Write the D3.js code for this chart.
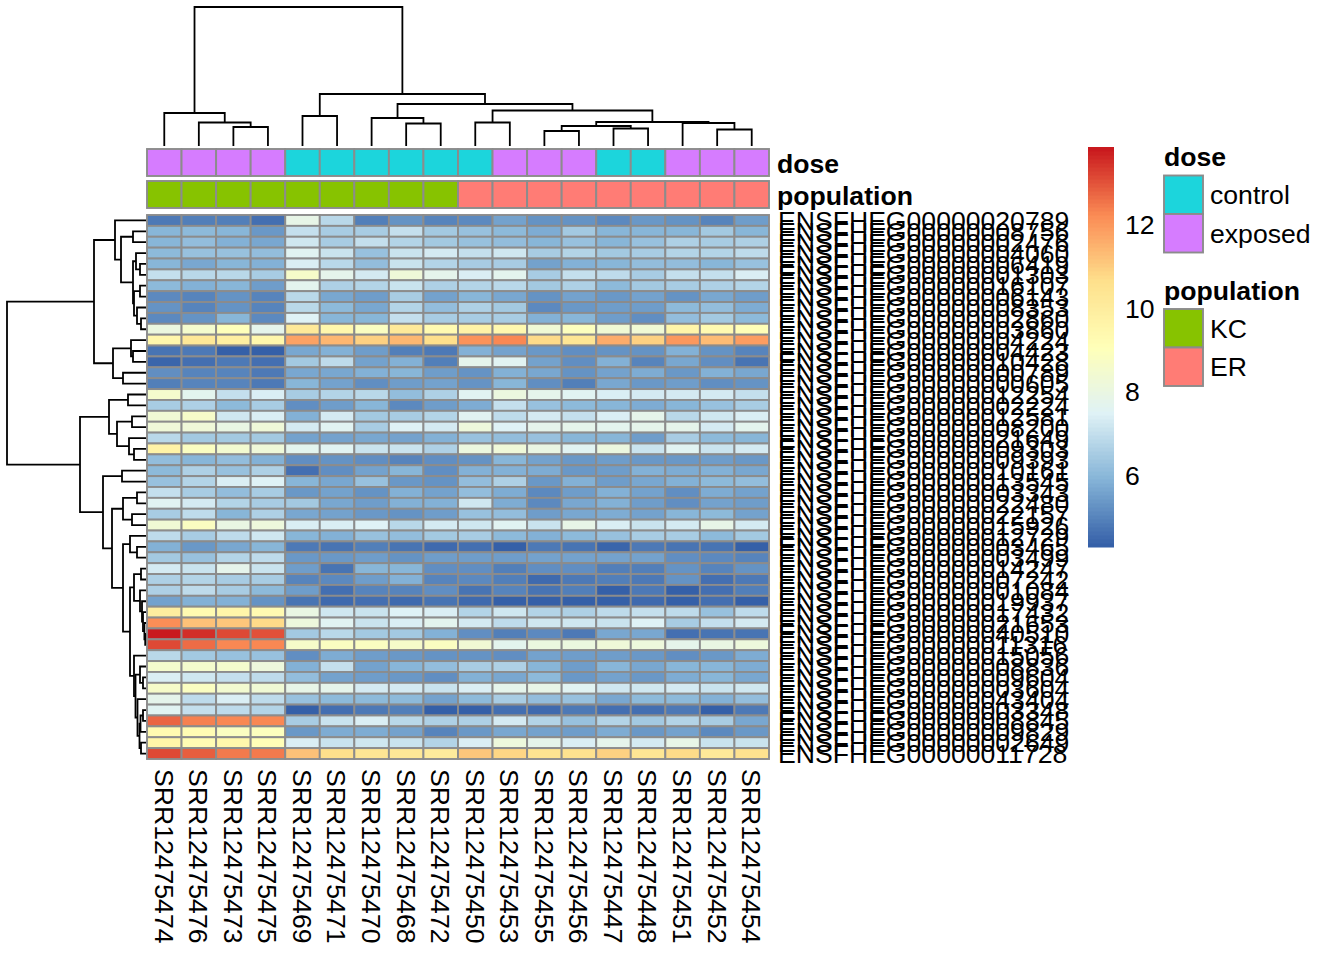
<!DOCTYPE html>
<html><head><meta charset="utf-8">
<script src="https://cdn.jsdelivr.net/npm/d3@7/dist/d3.min.js"></script>
<style>html,body{margin:0;padding:0;background:#fff}svg{display:block}text{font-family:"Liberation Sans",Arial,sans-serif;fill:#000}</style>
</head><body><svg id="c" width="1344" height="960"></svg>
<script>
const columns = ["SRR12475474","SRR12475476","SRR12475473","SRR12475475","SRR12475469","SRR12475471","SRR12475470","SRR12475468","SRR12475472","SRR12475450","SRR12475453","SRR12475455","SRR12475456","SRR12475447","SRR12475448","SRR12475451","SRR12475452","SRR12475454"];
const dose = ["exposed","exposed","exposed","exposed","control","control","control","control","control","control","exposed","exposed","exposed","control","control","exposed","exposed","exposed"];
const population = ["KC","KC","KC","KC","KC","KC","KC","KC","KC","ER","ER","ER","ER","ER","ER","ER","ER","ER"];
const geneSuffix = ["20789","08756","02476","04060","06419","01303","16107","06143","08353","02860","03860","04224","04423","10428","00789","00605","12254","02224","12581","08200","21649","09303","09393","10161","13545","03343","22480","22157","15926","12729","03465","03499","14247","07242","01084","19937","17432","21653","40510","11316","15056","08836","09604","03604","43404","03348","08845","09829","02649","11728"];
const rowLabels = geneSuffix.map(s => "ENSFHEG000000" + s);
const expression = [
[4.8,4.9,4.9,4.6,7.9,6.8,4.9,5.3,5.0,5.1,5.6,5.3,5.3,5.1,5.4,5.3,5.0,5.5],
[6.0,6.1,6.0,5.4,7.0,6.5,6.5,7.0,6.4,6.3,6.1,5.8,6.4,6.0,6.0,6.0,6.4,6.0],
[6.0,6.2,5.9,5.7,7.2,6.5,7.0,6.7,6.4,6.3,6.2,6.0,6.3,6.0,6.3,6.6,6.5,6.6],
[6.1,6.3,6.3,6.2,7.6,7.1,6.3,7.1,7.3,7.0,7.2,6.5,6.7,6.4,6.5,6.7,6.7,6.9],
[6.0,5.7,6.0,5.9,7.4,6.8,6.2,7.1,6.7,6.5,6.5,5.6,5.9,6.0,6.2,6.2,6.0,6.3],
[7.0,6.8,6.8,6.5,8.7,7.8,7.3,8.3,7.8,7.4,7.7,6.5,7.0,6.9,6.5,7.0,7.0,7.4],
[6.1,5.9,6.0,5.5,7.7,6.6,6.7,7.1,6.6,6.7,6.8,6.4,6.6,6.1,6.4,6.5,6.6,6.7],
[5.1,5.0,5.3,5.0,6.8,5.7,5.5,6.5,5.6,6.0,5.7,5.3,5.6,5.4,5.6,5.3,5.7,5.5],
[5.3,5.0,5.3,5.0,6.8,6.1,5.7,6.7,6.2,6.6,6.4,5.1,5.4,5.5,5.5,6.1,6.2,5.8],
[5.1,5.3,6.0,5.1,7.5,6.0,6.0,7.0,6.5,6.5,6.5,5.9,6.0,5.5,5.2,6.2,6.4,6.1],
[8.1,8.6,9.0,7.8,10.2,9.5,8.8,10.2,9.3,9.7,9.4,8.4,8.9,8.4,8.4,9.6,9.3,9.1],
[9.5,10.3,9.9,9.5,11.8,11.4,11.0,11.4,10.7,12.1,12.3,10.8,10.4,11.6,11.0,12.0,11.3,11.9],
[4.7,4.8,4.3,4.3,5.7,5.9,5.5,4.9,4.8,5.9,5.6,5.4,5.2,5.3,5.3,5.9,5.3,5.0],
[4.4,4.6,4.8,4.6,6.4,6.9,5.6,5.9,4.9,7.8,7.6,5.6,5.2,5.9,5.0,5.7,5.2,4.7],
[5.2,5.0,5.0,4.8,5.7,5.7,5.9,6.0,5.5,5.3,5.9,5.7,5.3,5.6,5.8,5.4,5.9,5.7],
[4.9,5.0,5.0,4.8,6.0,5.6,5.2,5.5,5.6,5.3,6.0,5.2,4.9,5.7,5.4,5.5,5.2,5.3],
[8.6,7.7,7.0,7.4,6.5,6.7,6.8,6.2,6.6,7.6,8.1,7.8,7.6,7.4,7.3,7.3,7.3,7.0],
[6.5,6.6,6.1,6.5,5.2,5.5,6.0,5.1,5.5,5.8,7.0,6.3,6.1,6.0,5.8,6.0,6.3,6.5],
[8.4,8.7,7.2,7.4,5.9,7.3,6.4,6.5,6.7,7.6,6.9,7.3,7.0,7.4,7.8,6.8,7.2,7.4],
[8.3,8.3,8.0,8.3,7.3,7.6,6.5,7.5,7.3,8.2,7.5,7.8,7.8,7.7,7.8,7.8,7.3,7.7],
[6.8,6.4,6.4,6.4,5.6,5.6,5.7,5.6,5.9,6.3,6.2,6.3,6.0,6.0,5.5,6.5,6.1,6.0],
[9.7,8.8,8.5,8.3,7.7,7.6,7.1,7.1,6.6,8.1,8.3,8.0,7.6,8.1,7.1,7.6,7.1,7.3],
[6.2,6.0,6.2,5.9,5.2,5.3,5.2,5.0,5.2,5.3,6.0,5.6,5.4,5.5,5.4,5.4,5.5,5.4],
[6.1,6.6,6.3,6.6,4.6,5.2,5.6,6.0,5.2,5.9,5.9,5.8,5.4,5.5,5.9,5.8,5.9,5.7],
[6.3,6.7,7.4,7.5,6.0,5.7,6.3,5.4,5.3,6.2,6.6,5.4,5.9,5.5,5.7,5.9,6.1,6.2],
[7.0,6.5,6.2,6.5,5.4,5.6,5.3,5.9,5.6,6.2,5.8,5.1,5.5,5.9,5.6,5.2,5.8,5.6],
[7.6,7.3,6.7,6.5,6.4,5.7,5.5,5.9,5.9,7.2,5.8,5.1,5.7,5.9,5.5,5.2,5.6,5.5],
[6.5,6.9,6.0,6.6,5.7,5.6,5.4,5.3,5.5,6.3,6.2,5.5,5.7,5.8,5.6,6.0,6.1,5.6],
[8.4,8.8,8.0,8.2,7.4,7.4,7.5,6.8,7.3,7.2,7.6,7.1,7.9,7.4,7.1,7.3,7.9,7.3],
[6.9,6.5,6.9,7.2,6.0,5.9,6.3,6.2,6.4,6.5,6.1,5.9,6.1,6.3,6.5,6.5,6.1,6.4],
[5.9,5.4,5.7,6.0,4.8,4.7,4.9,4.7,4.5,4.6,4.3,4.8,4.7,4.4,4.8,4.7,4.7,4.3],
[6.4,6.3,6.7,6.9,5.4,5.4,5.5,5.3,5.5,5.5,5.5,5.6,5.6,5.6,5.6,5.2,5.1,5.0],
[7.3,7.1,7.8,7.1,5.5,4.7,6.0,6.0,5.2,5.2,4.9,5.2,5.2,4.9,4.9,5.3,5.0,5.3],
[6.6,6.7,6.5,6.5,5.0,5.1,5.5,5.9,5.0,5.1,4.9,4.5,4.8,4.9,4.8,5.3,4.6,4.8],
[6.6,6.9,6.5,6.1,5.5,4.6,5.0,5.0,5.2,4.7,5.0,4.7,4.9,4.3,4.8,4.3,4.6,4.9],
[5.6,5.9,5.9,5.3,4.7,4.5,4.6,4.5,4.7,4.5,4.3,4.3,4.3,4.3,4.5,4.3,4.6,4.3],
[10.0,9.3,9.6,9.3,8.0,7.2,7.1,7.5,7.4,6.7,7.2,6.7,6.6,6.9,7.0,6.9,6.3,6.9],
[12.2,11.2,11.1,10.8,8.2,7.6,7.1,7.4,7.7,7.3,6.9,7.2,7.2,7.1,7.5,6.5,7.0,7.3],
[13.85,13.5,13.2,13.1,6.4,6.8,6.4,6.4,5.9,5.2,4.9,5.1,4.8,5.7,5.7,4.6,4.7,4.7],
[13.2,12.7,12.3,12.3,8.7,8.8,8.8,8.7,8.8,8.4,7.7,8.1,8.1,8.3,8.2,7.8,8.0,8.2],
[6.8,6.4,6.3,6.3,5.2,5.8,5.5,5.4,5.3,5.3,5.2,5.6,5.5,5.5,5.4,5.2,5.4,5.8],
[8.6,8.6,8.6,8.2,5.9,7.0,5.6,6.0,6.2,6.5,6.6,6.0,5.5,6.0,5.7,6.0,6.0,5.8],
[7.4,7.2,7.0,6.9,6.2,5.6,5.5,5.4,5.2,5.9,5.7,6.1,5.4,5.6,5.4,5.8,6.0,5.7],
[8.7,8.8,8.5,8.4,7.9,7.8,7.3,7.3,7.1,7.4,7.8,7.9,7.6,7.2,7.2,7.3,7.1,7.2],
[7.8,6.9,7.4,6.9,6.3,6.1,6.1,6.1,5.6,6.1,6.5,6.2,6.3,5.7,6.1,6.1,5.9,6.2],
[7.6,7.0,6.9,6.7,4.3,4.6,4.8,4.9,4.3,4.3,4.6,4.5,4.8,4.6,4.6,4.8,4.3,4.8],
[12.8,12.4,12.3,12.3,6.5,7.1,7.4,6.8,6.6,6.6,7.3,6.7,6.3,6.7,6.4,6.7,6.5,5.7],
[9.3,9.2,8.8,8.9,5.4,5.8,5.8,5.6,5.0,5.4,5.7,5.6,5.5,5.8,5.4,5.6,5.1,5.4],
[9.6,9.2,9.5,9.1,7.4,7.1,7.2,7.1,6.7,7.4,8.2,7.8,7.4,7.8,7.3,7.9,7.1,7.1],
[13.2,12.9,12.5,12.5,11.2,10.7,10.4,10.3,10.1,11.1,10.9,10.5,10.6,11.0,10.4,10.8,10.2,10.6]
];
const valueMin = 4.29, valueMax = 13.88;
const colorbarTicks = [6,8,10,12];
const paletteStops = ["#3560A8","#85B4D7","#DFF2F6","#FFFFB8","#FEE08C","#FB8B55","#C9191E"];
const doseLevels = ["control","exposed"], doseColors = ["#1CD5DC","#D67CFF"];
const populationLevels = ["KC","ER"], populationColors = ["#87C300","#FF7C75"];
// hclust-style merges: [left, right, height]; negative = leaf number (1-based), positive = merge number
const colMerges = [
[-3,-4,19],[-2,1,23.5],[-1,2,33],[-5,-6,30],[-8,-9,22.5],[-7,5,28],[-10,-11,23.5],[-12,-13,15],[-14,-15,17.5],[8,9,20],
[-17,-18,16.5],[-16,11,23],[10,12,24],[7,13,35.5],[6,14,42],[4,15,52],[3,16,139]
];
const rowMerges = [
[-5,-6,6],[-4,1,10],[-7,-8,6],[-10,-11,5],[-9,4,9],[3,5,12],[2,6,13],[-2,-3,13],[8,7,25],[-1,9,31],
[-13,-14,13],[-12,11,15],[-15,-16,23],[12,13,33],[10,14,52],
[-17,-18,18],[-19,-20,14],[-22,-23,12],[-21,18,17],[17,19,29],[16,20,37],
[-24,-25,24],[-26,-27,9],[-28,-29,14],[23,24,23],[-31,-32,9],[-30,26,16],
[-33,-34,5],[-39,-40,0.8],[-38,29,1.6],[-37,30,3],[-36,31,4],[-35,32,6],[28,33,12],
[-43,-44,3],[-42,35,6],[-46,-47,3],[37,-48,5.5],[-49,-50,5],[38,39,6.5],[-45,40,8.5],[36,41,10.5],[-41,42,12],
[34,43,16],[27,44,23],[25,45,34],[22,46,43],[21,47,66],[15,48,139]
];

const svg = d3.select("#c");
const F = 26.6, GREY = "#8c8c8c";
const x = d3.scaleBand().domain(d3.range(columns.length)).range([147,769]);
const y = d3.scaleBand().domain(d3.range(rowLabels.length)).range([215,759]);
const stops = d3.scaleLinear().domain(d3.range(paletteStops.length).map(i => i/(paletteStops.length-1))).range(paletteStops).interpolate(d3.interpolateRgb);
const palette = d3.range(100).map(i => stops(i/99));
const color = d3.scaleQuantize().domain([valueMin,valueMax]).range(palette);

// heatmap
const cells = expression.flatMap((r,i) => r.map((v,j) => ({i,j,v})));
svg.append("g").selectAll("rect").data(cells).join("rect")
  .attr("x",d=>x(d.j)).attr("y",d=>y(d.i)).attr("width",x.bandwidth()).attr("height",y.bandwidth())
  .attr("fill",d=>color(d.v)).attr("stroke",GREY).attr("stroke-width",1.9);

// annotations
const doseColor = d3.scaleOrdinal(doseLevels,doseColors), popColor = d3.scaleOrdinal(populationLevels,populationColors);
[[dose,doseColor,149,176,"dose"],[population,popColor,181,208,"population"]].forEach(([vals,sc,y0,y1,name])=>{
  svg.append("g").selectAll("rect").data(vals).join("rect")
    .attr("x",(d,j)=>x(j)).attr("y",y0).attr("width",x.bandwidth()).attr("height",y1-y0)
    .attr("fill",d=>sc(d)).attr("stroke",GREY).attr("stroke-width",1.9);
  svg.append("text").attr("x",777).attr("y",(y0+y1)/2+0.8).attr("dy","0.36em").attr("font-size",F).attr("font-weight","bold").text(name);
});

// labels
svg.append("g").selectAll("text").data(rowLabels).join("text")
  .attr("x",778).attr("y",(d,i)=>y(i)+y.bandwidth()/2).attr("dy","0.36em").attr("font-size",F).text(d=>d);
svg.append("g").selectAll("text").data(columns).join("text")
  .attr("transform",(d,j)=>`translate(${x(j)+x.bandwidth()/2},769) rotate(90)`).attr("dy","0.36em").attr("font-size",F).text(d=>d);

// dendrograms
function dendro(merges, leafPos, hPos, orient){
  const nodes=[]; const g=svg.append("g").attr("fill","none").attr("stroke","#000").attr("stroke-width",1.8);
  const p=c=>c<0?{pos:leafPos(-c-1),h:0}:nodes[c-1];
  merges.forEach(([a,b,h])=>{
    const A=p(a),B=p(b); nodes.push({pos:(A.pos+B.pos)/2,h});
    const d=orient==="top"
      ?`M${A.pos},${hPos(A.h)}V${hPos(h)}H${B.pos}V${hPos(B.h)}`
      :`M${hPos(A.h)},${A.pos}H${hPos(h)}V${B.pos}H${hPos(B.h)}`;
    g.append("path").attr("d",d);
  });
}
dendro(colMerges,j=>x(j)+x.bandwidth()/2,d3.scaleLinear().domain([0,139]).range([146,7]),"top");
dendro(rowMerges,i=>y(i)+y.bandwidth()/2,d3.scaleLinear().domain([0,139]).range([146,7]),"left");

// colorbar
const cb = d3.scaleLinear().domain([valueMin,valueMax]).range([547,147]);
svg.append("g").selectAll("rect").data(palette).join("rect")
  .attr("x",1088).attr("width",26)
  .attr("y",(d,i)=>cb(valueMin+(i+1)*(valueMax-valueMin)/100))
  .attr("height",(cb.range()[0]-cb.range()[1])/100+0.5).attr("fill",d=>d);
svg.append("g").selectAll("text").data(colorbarTicks).join("text")
  .attr("x",1125).attr("y",d=>cb(d)-0.5).attr("dy","0.36em").attr("font-size",F).text(d=>d);

// legends
function legend(title,levels,colors,y0){
  svg.append("text").attr("x",1164).attr("y",y0-19).attr("dy","0.36em").attr("font-size",F).attr("font-weight","bold").text(title);
  levels.forEach((l,i)=>{
    svg.append("rect").attr("x",1164).attr("y",y0+i*38.5).attr("width",39).attr("height",38.5).attr("fill",colors[i]).attr("stroke",GREY).attr("stroke-width",1.9);
    svg.append("text").attr("x",1210).attr("y",y0+i*38.5+19).attr("dy","0.36em").attr("font-size",F).text(l);
  });
}
legend("dose",doseLevels,doseColors,175.5);
legend("population",populationLevels,populationColors,309);
</script></body></html>
